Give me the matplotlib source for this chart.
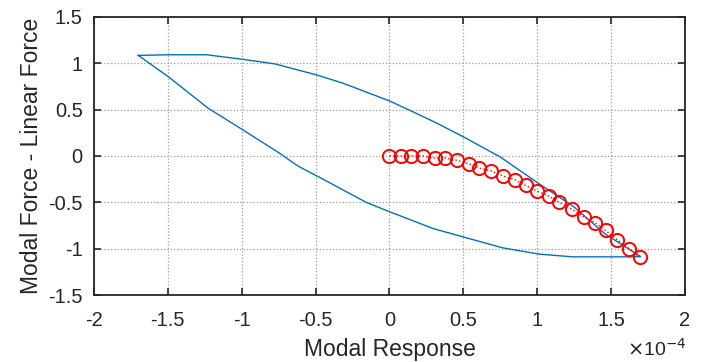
import matplotlib
matplotlib.use("Agg")
import matplotlib.pyplot as plt

plt.rcParams['font.family'] = ['Liberation Sans', 'DejaVu Sans']

# Blue hysteresis loop (x in units of 1e-4)
loop_x = [-1.70, -1.498, -1.239, -1.002, -0.777, -0.495, -0.315, 0.0, 0.14, 0.325, 0.51,
          0.749, 1.013, 1.25, 1.46, 1.70,
          1.62, 1.239, 1.014, 0.766, 0.495, 0.293, 0.0, -0.157, -0.439, -0.62, -0.743,
          -0.991, -1.228, -1.498, -1.70]
loop_y = [1.083, 1.09, 1.09, 1.043, 0.992, 0.874, 0.784, 0.593, 0.49, 0.35, 0.198,
          -0.01, -0.30, -0.55, -0.84, -1.083,
          -1.086, -1.086, -1.057, -0.989, -0.87, -0.78, -0.60, -0.50, -0.259, -0.108, 0.029,
          0.28, 0.515, 0.855, 1.083]

# Red circle series
pts_x = [0.0, 0.079, 0.145, 0.228, 0.307, 0.378, 0.458, 0.537, 0.608, 0.690, 0.770, 0.849,
         0.921, 1.0, 1.079, 1.146, 1.238, 1.317, 1.392, 1.463, 1.542, 1.622, 1.693]
pts_y = [0.0, 0.0, 0.0, 0.0, -0.022, -0.022, -0.047, -0.083, -0.129, -0.162, -0.216, -0.255,
         -0.317, -0.378, -0.432, -0.496, -0.576, -0.658, -0.719, -0.802, -0.903, -1.0, -1.09]

xticks = [-2, -1.5, -1, -0.5, 0, 0.5, 1, 1.5, 2]
xticklabels = ['-2', '-1.5', '-1', '-0.5', '0', '0.5', '1', '1.5', '2']
yticks = [-1.5, -1, -0.5, 0, 0.5, 1, 1.5]
yticklabels = ['-1.5', '-1', '-0.5', '0', '0.5', '1', '1.5']

fig = plt.figure(figsize=(7.04, 3.62), dpi=100)
ax = fig.add_axes([0.1335, 0.1843, 0.8395, 0.7696])

ax.plot(loop_x, loop_y, color='#0072BD', linewidth=1.0)
ax.plot(pts_x, pts_y, linestyle=':', color='red', linewidth=1.0, marker='o',
        markersize=9.5, markerfacecolor='none', markeredgecolor='red', markeredgewidth=1.4)

ax.set_xlim(-2, 2)
ax.set_ylim(-1.5, 1.5)
ax.set_xticks(xticks)
ax.set_xticklabels(xticklabels)
ax.set_yticks(yticks)
ax.set_yticklabels(yticklabels)
ax.tick_params(direction='in', top=True, right=True, length=5, width=1.2,
               labelsize=14.5, colors='#262626')
ax.tick_params(axis='x', pad=11)
ax.tick_params(axis='y', pad=8)
ax.grid(True, linestyle=':', color='#9a9a9a', linewidth=0.9)
for s in ax.spines.values():
    s.set_linewidth(1.3)
    s.set_color('#262626')

ax.set_xlabel('Modal Response', fontsize=16.5, color='#262626', labelpad=6)
ax.set_ylabel('Modal Force - Linear Force', fontsize=16.5, color='#262626', labelpad=4)
fig.text(0.891, 0.016, r'$\times$10$^{-4}$', fontsize=14, color='#262626')

fig.savefig('out.png', dpi=100)
